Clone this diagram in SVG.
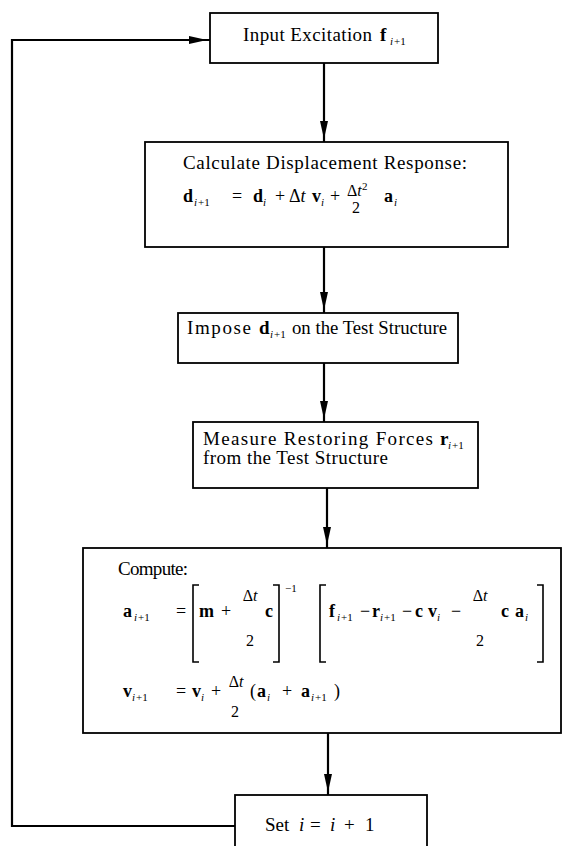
<svg xmlns="http://www.w3.org/2000/svg" width="566" height="846" viewBox="0 0 566 846">
<style>
.box{fill:#fff;stroke:#000;stroke-width:1.8}
.t{font-family:"Liberation Serif","Times New Roman",serif;font-size:19px;fill:#000}
.m{font-family:"Liberation Serif","Times New Roman",serif;font-size:18px;fill:#000}
.b{font-weight:bold}
.it{font-style:italic}
.s{font-size:11px}
.fr{font-size:16px}
.mid{text-anchor:middle}
.conn{stroke:#000;stroke-width:2.2;fill:none}
.br{stroke:#000;stroke-width:1.6;fill:none}
</style>
<defs>
<marker id="ah" markerUnits="userSpaceOnUse" markerWidth="20" markerHeight="10" refX="21" refY="5" orient="auto">
<path d="M0,1 L18,5 L0,9 z" fill="#000"/>
</marker>
</defs>
<rect width="566" height="846" fill="#fff"/>

<g id="connectors">
<line class="conn" x1="324" y1="63" x2="324" y2="142" marker-end="url(#ah)"/>
<line class="conn" x1="324" y1="247" x2="324" y2="313" marker-end="url(#ah)"/>
<line class="conn" x1="324" y1="363" x2="324" y2="422" marker-end="url(#ah)"/>
<line class="conn" x1="327" y1="488" x2="327" y2="548" marker-end="url(#ah)"/>
<line class="conn" x1="328" y1="733" x2="328" y2="795" marker-end="url(#ah)"/>
<polyline class="conn" points="235,826 12,826 12,40 210,40" marker-end="url(#ah)"/>
</g>

<g id="n1">
<rect class="box" x="210" y="13" width="228" height="50"/>
<text class="t" x="243" y="41" textLength="129" lengthAdjust="spacing">Input Excitation</text>
<text class="t b" x="380" y="41">f</text>
<text class="t s it" x="390" y="45">i</text><text class="t s" x="394" y="45">+1</text>
</g>

<g id="n2">
<rect class="box" x="145" y="142" width="363" height="105"/>
<text class="t" x="183" y="169" textLength="284" lengthAdjust="spacing">Calculate Displacement Response:</text>
<text class="m b" x="183" y="202">d</text>
<text class="m s it" x="194" y="206">i</text><text class="m s" x="198" y="206">+1</text>
<text class="m" x="232" y="202">=</text>
<text class="m b" x="253" y="202">d</text><text class="m s it" x="263" y="206">i</text>
<text class="m" x="275" y="202">+</text>
<text class="m" x="289" y="202">Δ<tspan class="it">t</tspan></text>
<text class="m b" x="312" y="202">v</text><text class="m s it" x="321" y="206">i</text>
<text class="m" x="330" y="202">+</text>
<text class="m fr" x="347" y="196">Δ<tspan class="it">t</tspan></text>
<text class="m s" x="362" y="190">2</text>
<text class="m fr mid" x="356" y="213">2</text>
<text class="m b" x="384" y="202">a</text><text class="m s it" x="394" y="206">i</text>
</g>

<g id="n3">
<rect class="box" x="178" y="313" width="280" height="50"/>
<text class="t" x="187" y="334" textLength="64" lengthAdjust="spacing">Impose</text>
<text class="t b" x="259" y="334">d</text>
<text class="t s it" x="270" y="338">i</text><text class="t s" x="274" y="338">+1</text>
<text class="t" x="292" y="334" textLength="155" lengthAdjust="spacingAndGlyphs">on the Test Structure</text>
</g>

<g id="n4">
<rect class="box" x="193" y="422" width="285" height="66"/>
<text class="t" x="203" y="445" textLength="230" lengthAdjust="spacing">Measure Restoring Forces</text>
<text class="t b" x="440" y="445">r</text>
<text class="t s it" x="448" y="449">i</text><text class="t s" x="452" y="449">+1</text>
<text class="t" x="203" y="464" textLength="185" lengthAdjust="spacing">from the Test Structure</text>
</g>

<g id="n5">
<rect class="box" x="83" y="548" width="478" height="185"/>
<text class="t" x="118" y="575" textLength="70" lengthAdjust="spacing">Compute:</text>
<text class="m b" x="123" y="617">a</text>
<text class="m s it" x="134" y="621">i</text><text class="m s" x="138" y="621">+1</text>
<text class="m" x="176" y="617">=</text>
<path class="br" d="M199,585 L193,585 L193,662 L199,662"/>
<text class="m b" x="199" y="617">m</text>
<text class="m" x="221" y="617">+</text>
<text class="m fr mid" x="250" y="601">Δ<tspan class="it">t</tspan></text>
<text class="m fr mid" x="250" y="646">2</text>
<text class="m b" x="265" y="617">c</text>
<path class="br" d="M273,585 L279,585 L279,662 L273,662"/>
<text class="m s" x="285" y="592">−1</text>
<path class="br" d="M326,585 L320,585 L320,662 L326,662"/>
<text class="m b" x="329" y="617">f</text>
<text class="m s it" x="337" y="621">i</text><text class="m s" x="341" y="621">+1</text>
<text class="m" x="360" y="617">−</text>
<text class="m b" x="372" y="617">r</text>
<text class="m s it" x="380" y="621">i</text><text class="m s" x="384" y="621">+1</text>
<text class="m" x="402" y="617">−</text>
<text class="m b" x="415" y="617">c</text>
<text class="m b" x="428" y="617">v</text><text class="m s it" x="437" y="621">i</text>
<text class="m" x="451" y="617">−</text>
<text class="m fr mid" x="480" y="601">Δ<tspan class="it">t</tspan></text>
<text class="m fr mid" x="480" y="646">2</text>
<text class="m b" x="501" y="617">c</text>
<text class="m b" x="515" y="617">a</text><text class="m s it" x="525" y="621">i</text>
<path class="br" d="M537,585 L543,585 L543,662 L537,662"/>
<text class="m b" x="123" y="697">v</text>
<text class="m s it" x="132" y="701">i</text><text class="m s" x="136" y="701">+1</text>
<text class="m" x="176" y="697">=</text>
<text class="m b" x="192" y="697">v</text><text class="m s it" x="201" y="701">i</text>
<text class="m" x="211" y="697">+</text>
<text class="m fr mid" x="236" y="687">Δ<tspan class="it">t</tspan></text>
<text class="m fr mid" x="235" y="717">2</text>
<text class="m" x="250" y="697">(</text>
<text class="m b" x="257" y="697">a</text><text class="m s it" x="267" y="701">i</text>
<text class="m" x="282" y="697">+</text>
<text class="m b" x="301" y="697">a</text>
<text class="m s it" x="311" y="701">i</text><text class="m s" x="315" y="701">+1</text>
<text class="m" x="334" y="697">)</text>
</g>

<g id="n6">
<rect class="box" x="235" y="795" width="192" height="70"/>
<text class="t" x="265" y="831">Set</text>
<text class="t it" x="299" y="831">i</text>
<text class="t" x="310" y="831">=</text>
<text class="t it" x="330" y="831">i</text>
<text class="t" x="344" y="831">+</text>
<text class="t" x="365" y="831">1</text>
</g>
</svg>
